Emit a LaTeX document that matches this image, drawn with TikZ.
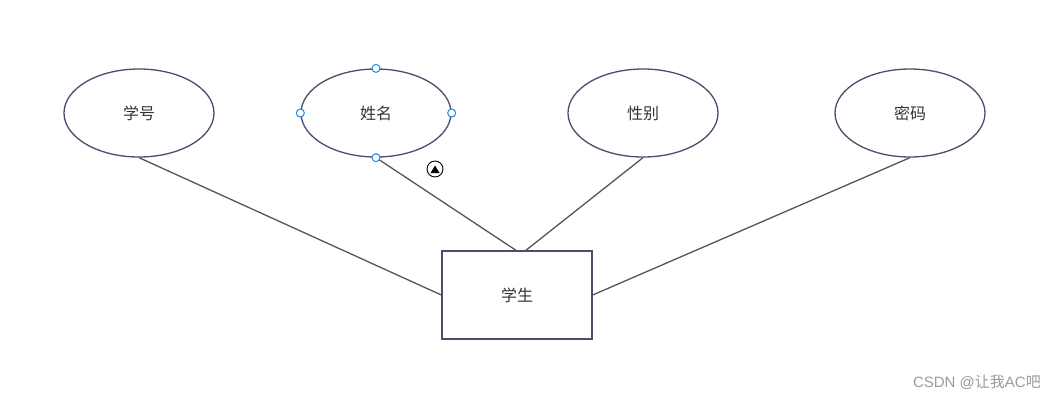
\documentclass[tikz,border=0pt]{standalone}
\usepackage{fontspec}
\setmainfont{Noto Sans CJK SC}
\newfontfamily\latinwm{Liberation Sans}
\usetikzlibrary{shapes.geometric}
\definecolor{edgeblue}{HTML}{4A4E6E}
\definecolor{linegray}{HTML}{555555}
\definecolor{txt}{HTML}{333333}
\definecolor{handle}{HTML}{1E88E5}
\definecolor{wm}{HTML}{9A9A9A}
\tikzset{
  attr/.style={ellipse, draw=edgeblue, line width=1.3pt, minimum width=150pt, minimum height=88pt, inner sep=0pt, text=txt, font=\fontsize{16}{16}\selectfont},
  entity/.style={rectangle, draw=edgeblue, line width=1.3pt, minimum width=150pt, minimum height=88pt, inner sep=0pt, text=txt, font=\fontsize{16}{16}\selectfont},
  conn/.style={draw=linegray, line width=1.3pt},
  hdl/.style={circle, draw=handle, fill=white, line width=1pt, minimum size=8pt, inner sep=0pt}
}
\begin{document}
\begin{tikzpicture}[x=1pt,y=-1pt]
\useasboundingbox (0,0) rectangle (1056,400);
\node[attr] (a) at (139,113) {学号};
\node[attr] (b) at (376,113) {姓名};
\node[attr] (c) at (643,113) {性别};
\node[attr] (d) at (910,113) {密码};
\node[entity] (r) at (517,295) {学生};
\coordinate (rt1) at (517,251);
\coordinate (rt2) at (525,251);
\draw[conn] (a.south) -- (r.west);
\draw[conn] (b.south) -- (rt1);
\draw[conn] (c.south) -- (rt2);
\draw[conn] (d.south) -- (r.east);
\node[hdl] (h1) at (b.north) {};
\node[hdl] (h2) at (b.west) {};
\node[hdl] (h3) at (b.east) {};
\node[hdl] (h4) at (b.south) {};
\node[circle, draw=black, line width=0.9pt, minimum size=16pt, inner sep=0pt] (ic) at (435,169) {};
\fill[black] (430.5,173) -- (439.5,173) -- (435,165.5) -- cycle;
\node[anchor=east, text=wm, font=\fontsize{15}{15}\selectfont, inner sep=0pt] (w) at (1041,382) {{\latinwm CSDN @}让我{\latinwm AC}吧};
\end{tikzpicture}
\end{document}
